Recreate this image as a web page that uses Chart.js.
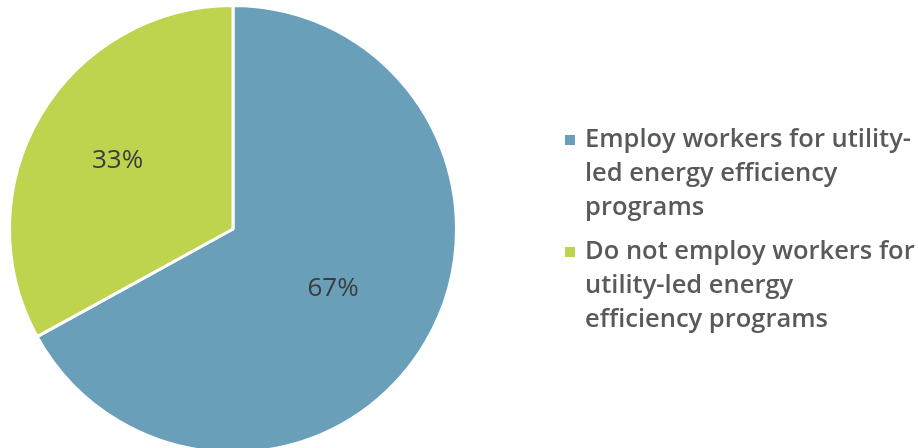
<!DOCTYPE html>
<html>
<head>
<meta charset="utf-8">
<script src="https://cdn.jsdelivr.net/npm/chart.js@4.4.0/dist/chart.umd.min.js"></script>
<style>
  html, body { margin: 0; padding: 0; background: #fff; }
  #wrap { position: relative; width: 918px; height: 448px; overflow: hidden; }
  #pie { position: absolute; left: 0; top: 0; }
  #legend { position: absolute; left: 565px; top: 120px; font-family: "Open Sans", sans-serif; font-weight: 600; font-size: 25.5px; color: #58595b; white-space: nowrap; }
  .item { position: relative; padding-left: 20px; line-height: 34px; margin-bottom: 10px; }
  .box { position: absolute; left: 0; top: 15px; width: 10px; height: 10px; }
</style>
</head>
<body>
<div id="wrap">
  <canvas id="pie" width="918" height="456"></canvas>
  <div id="legend"></div>
</div>
<script>
// dữ liệu
const categories = ['Employ workers for utility-led energy efficiency programs', 'Do not employ workers for utility-led energy efficiency programs'];
const legendLines = [
  ['Employ workers for utility-', 'led energy efficiency', 'programs'],
  ['Do not employ workers for', 'utility-led energy', 'efficiency programs']
];
const shares = [67, 33];
const sliceColors = ['#6a9fba', '#bed34e'];

// nhãn phần trăm trên lát bánh
const labelRadius = [0.52, 0.6];
const pctLabels = {
  id: 'pctLabels',
  afterDatasetsDraw(chart) {
    const ctx = chart.ctx;
    const meta = chart.getDatasetMeta(0);
    ctx.save();
    ctx.font = '400 26px "Open Sans", sans-serif';
    ctx.fillStyle = '#3c3c3c';
    ctx.textAlign = 'center';
    ctx.textBaseline = 'middle';
    meta.data.forEach((arc, i) => {
      const mid = (arc.startAngle + arc.endAngle) / 2;
      const r = arc.outerRadius * labelRadius[i];
      ctx.fillText(shares[i] + '%', arc.x + Math.cos(mid) * r, arc.y + Math.sin(mid) * r);
    });
    ctx.restore();
  }
};

new Chart(document.getElementById('pie').getContext('2d'), {
  type: 'pie',
  data: {
    labels: categories,
    datasets: [{
      data: shares,
      backgroundColor: sliceColors,
      borderColor: '#ffffff',
      borderWidth: 3
    }]
  },
  options: {
    responsive: false,
    animation: false,
    layout: { padding: { left: 8, top: 4, right: 460, bottom: 2 } },
    plugins: { legend: { display: false }, tooltip: { enabled: false } }
  },
  plugins: [pctLabels]
});

// chú giải bên phải
const legend = document.getElementById('legend');
legendLines.forEach((lines, i) => {
  const item = document.createElement('div');
  item.className = 'item';
  item.innerHTML = `<span class="box" style="background:${sliceColors[i]}"></span>${lines.join('<br>')}`;
  legend.appendChild(item);
});
</script>
</body>
</html>
